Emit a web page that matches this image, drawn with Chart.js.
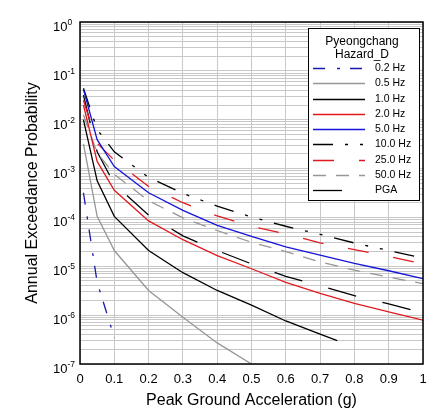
<!DOCTYPE html>
<html>
<head>
<meta charset="utf-8">
<script src="https://cdn.jsdelivr.net/npm/chart.js@4.4.1/dist/chart.umd.min.js"></script>
<style>
  html, body { margin: 0; padding: 0; background: #fff; }
</style>
</head>
<body>
<canvas id="hazardChart" width="436" height="414"></canvas>
<script>
// hazard curves for Pyeongchang, site class D

// PGA levels (g) where each curve was evaluated
const pgaLevels = [0.01, 0.05, 0.1, 0.2, 0.3, 0.4, 0.5, 0.6, 0.7, 0.8, 0.9, 1.0];
const pga02 = [0.01, 0.05, 0.1];
const pga05 = [0.01, 0.05, 0.1, 0.2, 0.3, 0.4, 0.5];
const pga10 = [0.01, 0.05, 0.1, 0.2, 0.3, 0.4, 0.5, 0.6, 0.7, 0.75];

// annual exceedance probability per series
const hz02 = [3.2e-4, 4.7e-6, 3.5e-7];
const hz05 = [3.2e-3, 1.05e-4, 2.1e-5, 3.2e-6, 9.1e-7, 2.7e-7, 1.0e-7];
const hz10 = [1.0e-2, 5.6e-4, 1.05e-4, 2.1e-5, 7.4e-6, 3.2e-6, 1.6e-6, 7.6e-7, 4.1e-7, 3.0e-7];
const hz20 = [2.0e-2, 1.4e-3, 3.6e-4, 8.5e-5, 3.5e-5, 1.66e-5, 8.9e-6, 4.7e-6, 2.8e-6, 1.74e-6, 1.17e-6, 7.9e-7];
const hz50 = [4.2e-2, 3.9e-3, 1.1e-3, 3.2e-4, 1.4e-4, 6.9e-5, 4.1e-5, 2.5e-5, 1.7e-5, 1.15e-5, 8.1e-6, 5.6e-6];
const hz100 = [4.4e-2, 6.3e-3, 2.2e-3, 6.6e-4, 3.1e-4, 1.7e-4, 1.02e-4, 6.6e-5, 4.5e-5, 3.0e-5, 2.1e-5, 1.48e-5];
const hz250 = [2.5e-2, 3.3e-3, 1.48e-3, 4.3e-4, 2.0e-4, 1.07e-4, 6.6e-5, 4.6e-5, 3.0e-5, 2.2e-5, 1.6e-5, 1.12e-5];
const hz500 = [1.26e-2, 2.1e-3, 7.6e-4, 2.2e-4, 9.8e-5, 5.4e-5, 3.1e-5, 2.0e-5, 1.23e-5, 8.3e-6, 6.0e-6, 4.4e-6];
const hzPGA = [3.2e-2, 2.2e-3, 4.8e-4, 1.12e-4, 4.2e-5, 2.1e-5, 1.12e-5, 6.2e-6, 4.0e-6, 2.5e-6, 1.7e-6, 1.12e-6];

const seriesNames = ['0.2 Hz', '0.5 Hz', '1.0 Hz', '2.0 Hz', '5.0 Hz', '10.0 Hz', '25.0 Hz', '50.0 Hz', 'PGA'];
const yDecades = [0, -1, -2, -3, -4, -5, -6, -7];
const legendTitle = ['Pyeongchang', 'Hazard_D'];

const FONT = "'Liberation Sans', Arial, sans-serif";
Chart.defaults.font.family = FONT;
Chart.defaults.color = '#000';

function toPoints(xs, ys) {
    return ys.map((y, i) => ({ x: xs[i], y: y }));
}

function makeSet(label, xs, ys, color, dash) {
    return {
        label: label,
        data: toPoints(xs, ys),
        borderColor: color,
        borderWidth: 1.3,
        borderDash: dash,
        pointRadius: 0,
        tension: 0,
        fill: false
    };
}

const datasets = [
    makeSet(seriesNames[0], pga02, hz02, 'rgb(25,25,170)', [12, 12, 3, 10]),
    makeSet(seriesNames[1], pga05, hz05, 'rgb(150,150,150)', []),
    makeSet(seriesNames[2], pga10, hz10, '#000', []),
    makeSet(seriesNames[3], pgaLevels, hz20, 'rgb(225,25,30)', []),
    makeSet(seriesNames[4], pgaLevels, hz50, 'rgb(20,20,220)', []),
    makeSet(seriesNames[5], pgaLevels, hz100, '#000', [20, 12, 3, 12, 3, 12]),
    makeSet(seriesNames[6], pgaLevels, hz250, 'rgb(225,25,30)', [21, 25]),
    makeSet(seriesNames[7], pgaLevels, hz500, 'rgb(150,150,150)', [13, 10]),
    makeSet(seriesNames[8], pgaLevels, hzPGA, '#000', [29, 27])
];

// frame round the plot area
const framePlugin = {
    id: 'frame',
    afterDatasetsDraw(chart) {
        const { ctx, chartArea: a } = chart;
        ctx.save();
        ctx.strokeStyle = '#000';
        ctx.lineWidth = 1.5;
        ctx.strokeRect(a.left, a.top, a.right - a.left, a.bottom - a.top);
        ctx.restore();
    }
};

// y labels as 10 with raised exponent
const powerLabels = {
    id: 'powerLabels',
    afterDraw(chart) {
        const { ctx } = chart;
        const y = chart.scales.y;
        ctx.save();
        ctx.fillStyle = '#000';
        ctx.textAlign = 'left';
        ctx.textBaseline = 'alphabetic';
        yDecades.forEach(e => {
            const py = y.getPixelForValue(Math.pow(10, e));
            ctx.font = '13px ' + FONT;
            ctx.fillText('10', 53, py + 9);
            const w = ctx.measureText('10').width;
            ctx.font = '8.5px ' + FONT;
            ctx.fillText(String(e), 53 + w, py + 3);
        });
        ctx.restore();
    }
};

// boxed legend in the upper right corner
const boxLegend = {
    id: 'boxLegend',
    afterDraw(chart) {
        const { ctx, chartArea: a } = chart;
        const bx = a.right - 115, by = a.top + 6, bw = 111, bh = 172;
        ctx.save();
        ctx.fillStyle = '#fff';
        ctx.fillRect(bx, by, bw, bh);
        ctx.strokeStyle = '#000';
        ctx.lineWidth = 1;
        ctx.strokeRect(bx + 0.5, by + 0.5, bw, bh);

        ctx.fillStyle = '#000';
        ctx.font = '12px ' + FONT;
        ctx.textAlign = 'center';
        ctx.textBaseline = 'middle';
        legendTitle.forEach((t, i) => ctx.fillText(t, bx + 54, by + 14 + i * 13));

        ctx.font = '10.5px ' + FONT;
        ctx.textAlign = 'left';
        chart.data.datasets.forEach((ds, i) => {
            const ly = Math.round(by + 40 + i * 15.25) + 0.5;
            ctx.beginPath();
            ctx.setLineDash(ds.borderDash || []);
            ctx.strokeStyle = ds.borderColor;
            ctx.lineWidth = ds.borderWidth;
            ctx.moveTo(bx + 5, ly);
            ctx.lineTo(bx + 57, ly);
            ctx.stroke();
            ctx.setLineDash([]);
            ctx.fillText(ds.label, bx + 67, ly);
        });
        ctx.restore();
    }
};

new Chart(document.getElementById('hazardChart'), {
    type: 'line',
    data: { datasets: datasets },
    options: {
        responsive: false,
        animation: false,
        layout: { padding: { left: 19, top: 22, right: 13, bottom: 0 } },
        plugins: { legend: { display: false }, tooltip: { enabled: false } },
        scales: {
            x: {
                type: 'linear',
                min: 0,
                max: 1,
                afterFit: (s) => { s.height = 50; },
                ticks: {
                    stepSize: 0.1,
                    padding: 8,
                    maxRotation: 0,
                    font: { size: 13 },
                    callback: (v) => String(Number(v.toFixed(1)))
                },
                grid: { color: '#c8c8c8', lineWidth: 1, drawTicks: false },
                border: { display: false },
                title: { display: true, text: 'Peak Ground Acceleration (g)', font: { size: 16 } }
            },
            y: {
                type: 'logarithmic',
                min: 1e-7,
                max: 1,
                afterFit: (s) => { s.width = 61; },
                afterBuildTicks: (s) => {
                    const t = [];
                    for (let e = -7; e < 0; e++) {
                        for (let m = 1; m <= 9; m++) t.push({ value: m * Math.pow(10, e) });
                    }
                    t.push({ value: 1 });
                    s.ticks = t;
                },
                ticks: { display: false },
                grid: { color: '#c8c8c8', lineWidth: 1, drawTicks: false },
                border: { display: false },
                title: { display: true, text: 'Annual Exceedance Probability', font: { size: 16 } }
            }
        }
    },
    plugins: [framePlugin, powerLabels, boxLegend]
});
</script>
</body>
</html>
